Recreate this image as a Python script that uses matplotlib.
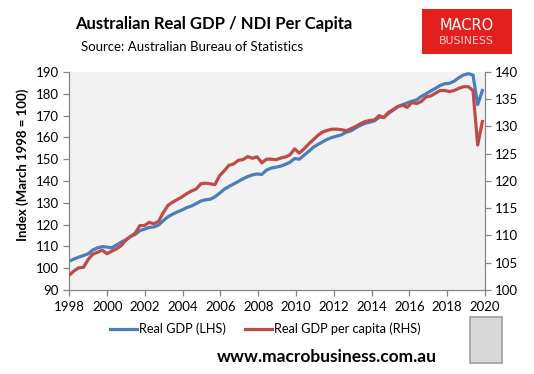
import numpy as np
import matplotlib
matplotlib.use("Agg")
import matplotlib.pyplot as plt
from matplotlib.patches import Rectangle

plt.rcParams['font.family'] = ['Lato', 'DejaVu Sans']

# Quarterly observations, March 1998 onwards
start_year = 1998.0
step = 0.2485

# Real GDP, index (left axis)
real_gdp = [
    103.3, 104.2, 105.1, 105.8, 106.6, 108.4, 109.3, 109.9, 109.7, 109.3,
    110.6, 111.9, 113.0, 114.5, 115.5, 117.2, 117.9, 118.7, 118.9, 119.8,
    121.8, 123.6, 124.8, 125.8, 126.7, 127.8, 128.5, 129.6, 130.8, 131.4,
    131.6, 132.7, 134.4, 136.2, 137.5, 138.6, 139.8, 141.0, 142.0, 142.8,
    143.2, 143.0, 145.0, 145.9, 146.3, 146.8, 147.6, 148.6, 150.3, 150.0,
    151.8, 153.6, 155.5, 156.8, 158.0, 159.2, 160.0, 160.6, 161.2, 162.4,
    163.0, 164.3, 165.5, 166.4, 167.0, 167.6, 169.2, 169.3, 171.0, 172.5,
    174.0, 175.0, 175.8, 176.6, 177.2, 178.8, 180.0, 181.3, 182.5, 183.8,
    184.6, 184.8, 185.8, 187.4, 188.6, 189.2, 188.6, 175.0, 181.5,
]

# Real GDP per capita, index (right axis)
gdp_per_capita = [
    102.76, 103.52, 104.08, 104.16, 105.6, 106.6, 106.92, 107.32, 106.64, 107.12,
    107.52, 108.12, 109.12, 109.8, 110.4, 111.8, 111.84, 112.4, 112.16, 112.6,
    114.2, 115.52, 116.12, 116.6, 117.08, 117.68, 118.16, 118.52, 119.48, 119.6,
    119.48, 119.32, 120.96, 121.88, 122.88, 123.12, 123.8, 123.92, 124.48, 124.16,
    124.44, 123.32, 124.0, 124.0, 123.9, 124.2, 124.4, 124.8, 125.9, 125.1,
    125.9, 126.8, 127.6, 128.4, 129.0, 129.3, 129.5, 129.5, 129.4, 129.2,
    129.6, 130.0, 130.5, 130.9, 131.1, 131.2, 132.0, 131.6, 132.6, 133.1,
    133.7, 133.9, 133.5, 134.4, 134.2, 134.6, 135.4, 135.6, 136.1, 136.6,
    136.6, 136.4, 136.6, 137.0, 137.3, 137.3, 136.6, 126.6, 130.9,
]

x_ticks = list(range(1998, 2021, 2))
left_ticks = list(range(90, 191, 10))
right_ticks = list(range(100, 141, 5))

years = start_year + np.arange(len(real_gdp)) * step

blue = '#4A7EBB'
red = '#BE4B48'
axis_grey = '#868686'

fig = plt.figure(figsize=(5.34, 3.74), dpi=100)
ax = fig.add_axes([0.130, 0.2246, 0.778, 0.583])
ax.set_facecolor('#F2F2F2')
ax2 = ax.twinx()

ax.plot(years, real_gdp, color=blue, lw=2.3, solid_joinstyle='round')
ax2.plot(years, gdp_per_capita, color=red, lw=2.3, solid_joinstyle='round')

ax.set_xlim(1998, 2020)
ax.set_ylim(90, 190)
ax2.set_ylim(100, 140)
ax.set_xticks(x_ticks)
ax.set_yticks(left_ticks)
ax2.set_yticks(right_ticks)

for a in (ax, ax2):
    for s in a.spines.values():
        s.set_color(axis_grey)
        s.set_linewidth(0.9)
    a.spines['top'].set_visible(False)
    a.tick_params(colors=axis_grey, labelcolor='black', labelsize=9.5,
                  length=4, width=0.9, direction='out')
ax.spines['right'].set_visible(False)
ax2.spines['left'].set_visible(False)
ax2.spines['bottom'].set_visible(False)
ax.tick_params(axis='x', pad=4)

ax.set_ylabel('Index (March 1998 = 100)', fontsize=9.5, fontweight='bold')
ax.yaxis.set_label_coords(-0.098, 0.573)

# legend
ax.plot([], [], color=blue, lw=2.3, label='Real GDP (LHS)')
ax.plot([], [], color=red, lw=2.3, label='Real GDP per capita (RHS)')
fig.legend(loc='center', bbox_to_anchor=(0.497, 0.12), ncol=2, frameon=False,
           fontsize=9.2, handlelength=2.1, handletextpad=0.15, columnspacing=1.5)

# titles
fig.text(0.40, 0.935, 'Australian Real GDP / NDI Per Capita', ha='center', va='center',
         fontsize=12, fontweight='bold')
fig.text(0.152, 0.874, 'Source: Australian Bureau of Statistics', ha='left', va='center',
         fontsize=9.5)
fig.text(0.613, 0.045, 'www.macrobusiness.com.au', ha='center', va='center',
         fontsize=12.5, fontweight='bold')

# logo box
fig.patches.append(Rectangle((0.790, 0.856), 0.169, 0.120, transform=fig.transFigure,
                             facecolor='#E3201E', edgecolor='none'))
fig.text(0.874, 0.933, 'MACRO', ha='center', va='center', color='white', fontsize=10.5,
         family='DejaVu Sans')
fig.text(0.874, 0.891, 'BUSINESS', ha='center', va='center', color='#F8D0D0', fontsize=7.8,
         family='DejaVu Sans')

# wolf image placeholder
fig.patches.append(Rectangle((0.881, 0.030), 0.060, 0.122, transform=fig.transFigure,
                             facecolor='#D9D9D9', edgecolor='#A0A0A0', lw=1.2))

fig.savefig('out.png', dpi=100)
